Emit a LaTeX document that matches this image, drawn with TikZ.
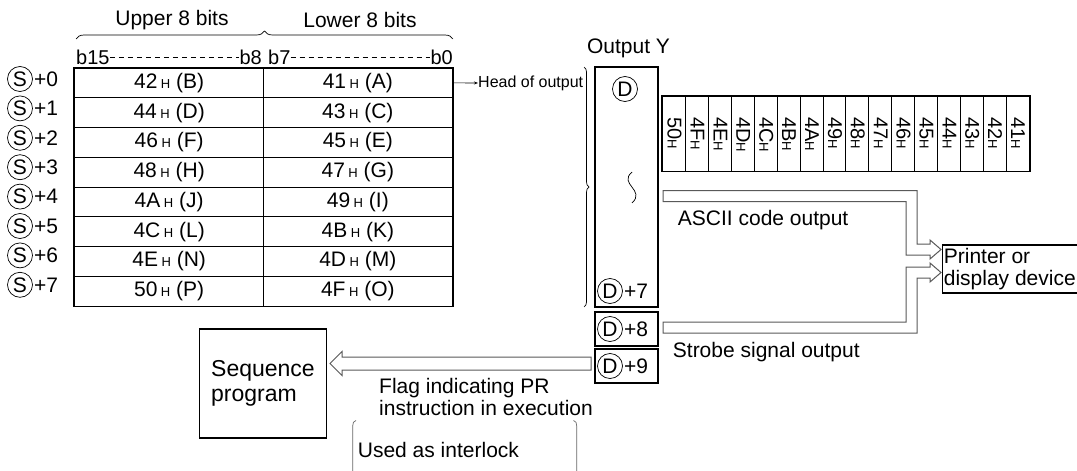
\documentclass[tikz,border=0pt]{standalone}
\usepackage{fontspec}
\setmainfont{Liberation Sans}
\usetikzlibrary{positioning,decorations.pathreplacing,arrows.meta}
\newcommand{\hx}{{\fontsize{13}{13}\selectfont H}}
\tikzset{
  cell/.style={draw, line width=1pt, minimum width=188.6pt, minimum height=29.75pt, inner sep=0pt},
  bitcell/.style={draw, line width=1pt, minimum width=22.9pt, minimum height=75pt, inner sep=0pt},
  circ/.style={draw, circle, line width=0.7pt, inner sep=0pt, minimum size=25pt},
  regbox/.style={draw, line width=1.6pt, inner sep=0pt},
  pipe/.style={draw=black!65, line width=1pt, fill=white, line join=miter},
  brc/.style={decorate, decoration={brace, amplitude=#1}, line width=0.7pt},
  lbl/.style={inner sep=0pt, anchor=west}
}

\begin{document}
\begin{tikzpicture}[x=1pt, y=-1pt, font=\fontsize{21}{22}\selectfont]
  \useasboundingbox (0,0) rectangle (1077,471);

  % source words S+0 .. S+7
  \foreach \i/\ua/\uc/\la/\lc in {0/42/B/41/A,1/44/D/43/C,2/46/F/45/E,3/48/H/47/G,4/4A/J/49/I,5/4C/L/4B/K,6/4E/N/4D/M,7/50/P/4F/O} {
    \node[cell] (hi\i) at (169.15,{82.9+29.75*\i}) {\ua\,\hx\ (\uc)};
    \node[cell] (lo\i) at (357.8,{82.9+29.75*\i}) {\la\,\hx\ (\lc)};
    \node[circ] (s\i) at (20,{79+29.4*\i}) {S};
    \node[lbl, xshift=1pt] (sn\i) at (s\i.east) {+\i};
  }
  \draw[line width=1.8pt] (hi0.north west) rectangle (lo7.south east);

  \node (upper) at (172,20) {Upper 8 bits};
  \node (lower) at (360,20) {Lower 8 bits};
  \draw[brc=8pt] (76,39) -- (453,39);

  \node[lbl, font=\fontsize{20}{20}\selectfont] (b15) at (76,57) {b15};
  \node[inner sep=0pt, anchor=east, font=\fontsize{20}{20}\selectfont] (b8) at (262,57) {b8};
  \node[lbl, font=\fontsize{20}{20}\selectfont] (b7) at (268,57) {b7};
  \node[inner sep=0pt, anchor=east, font=\fontsize{20}{20}\selectfont] (b0) at (453,57) {b0};
  \draw[line width=0.7pt, dash pattern=on 5pt off 4pt] (b15.east) -- (b8.west);
  \draw[line width=0.7pt, dash pattern=on 5pt off 4pt] (b7.east) -- (b0.west);

  \node[lbl, font=\fontsize{16}{16}\selectfont] (head) at (478,83) {Head of output};
  \draw[-{Stealth[length=4pt]}, line width=0.6pt] (lo0.east) -- (head.west);
  \draw[brc=5pt] (584,67) -- (584,307);

  % output Y
  \node (outy) at (628.5,48) {Output Y};
  \node[regbox, minimum width=63pt, minimum height=240pt] (outbox) at (626.5,187) {};
  \node[circ] (d0) at (625,89) {D};
  \draw[line width=0.7pt] (632,172) .. controls (618,184) and (646,190) .. (632,203);
  \node[circ] (d7) at (610,291) {D};
  \node[lbl, xshift=1pt] (dn7) at (d7.east) {+7};
  \node[regbox, minimum width=63pt, minimum height=34pt] (box8) at (626.5,329) {};
  \node[circ] (d8) at (610,329) {D};
  \node[lbl, xshift=1pt] (dn8) at (d8.east) {+8};
  \node[regbox, minimum width=63pt, minimum height=34pt] (box9) at (626.5,366) {};
  \node[circ] (d9) at (610,366) {D};
  \node[lbl, xshift=1pt] (dn9) at (d9.east) {+9};

  % characters sent out
  \foreach \v [count=\k from 0] in {50,4F,4E,4D,4C,4B,4A,49,48,47,46,45,44,43,42,41} {
    \node[bitcell] (y\k) at ({674.15+22.9*\k},133.5) {};
    \node[rotate=-90, anchor=west, inner sep=0pt, font=\fontsize{20}{20}\selectfont] (yl\k) at ({674.6+22.9*\k},117) {\v\hx};
  }
  \draw[line width=1.8pt] (y0.north west) rectangle (y15.south east);

  \node[draw, line width=1.2pt, minimum width=135pt, minimum height=48pt, align=left, inner sep=1pt, anchor=west] (printer) at (941.7,269) {Printer or\\display device};

  \draw[pipe] (663,190.5) -- (917,190.5) -- (917,244) -- (930,244) -- (930,240) -- (941,249.5) -- (930,259) -- (930,255) -- (906,255) -- (906,201.5) -- (663,201.5) -- cycle;
  \draw[pipe] (663,322) -- (906,322) -- (906,267) -- (930,267) -- (930,263) -- (941,272.5) -- (930,282) -- (930,278) -- (917,278) -- (917,333) -- (663,333) -- cycle;
  \node[lbl] (ascii) at (677.7,220) {ASCII code output};
  \node[lbl] (strobe) at (672.7,352) {Strobe signal output};

  % flag back to the program
  \node[draw, line width=1.2pt, minimum width=127.4pt, minimum height=109pt, align=left, font=\fontsize{23}{25}\selectfont] (seq) at (263,383.5) {Sequence\\program};
  \draw[pipe] (591,357) -- (342,357) -- (342,351.5) -- (330,363.5) -- (342,375.5) -- (342,370) -- (591,370) -- cycle;
  \node[lbl, align=left, font=\fontsize{21}{21.5}\selectfont] (flag) at (379,397) {Flag indicating PR\\instruction in execution};

  \draw[line width=0.7pt, black!60] (356,420.5) to[out=180,in=90] (352.7,426) -- (352.7,472);
  \draw[line width=0.7pt, black!60] (573.5,420.5) to[out=0,in=90] (576.7,426) -- (576.7,472);
  \node[lbl] (lock) at (357.7,450) {Used as interlock};
\end{tikzpicture}
\end{document}
